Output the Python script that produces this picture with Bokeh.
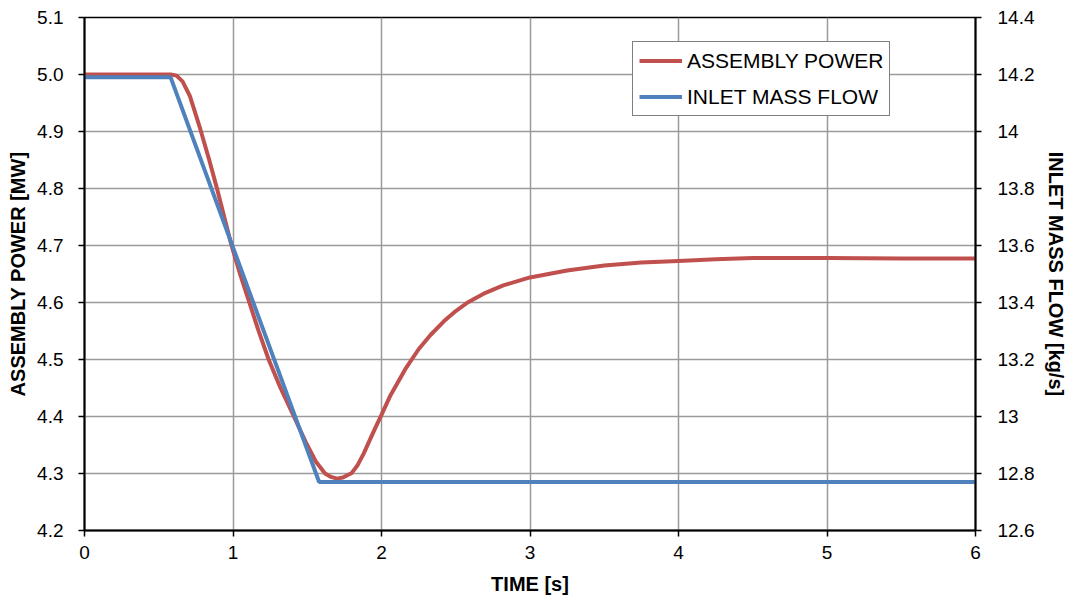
from bokeh.plotting import figure
from bokeh.models import (LinearAxis, Range1d, Legend, LegendItem, FixedTicker,
                          CustomJSTickFormatter, PrintfTickFormatter)
from bokeh.embed import file_html
from bokeh.resources import INLINE

# Assembly power response [MW] vs time [s]
power_time = [0.00, 0.58, 0.62, 0.66, 0.71, 0.78, 0.84, 0.89, 0.99, 1.05, 1.11, 1.17,
              1.24, 1.32, 1.41, 1.49, 1.56, 1.62, 1.66, 1.70, 1.74, 1.80, 1.84, 1.88,
              1.92, 1.96, 2.00, 2.06, 2.16, 2.25, 2.33, 2.42, 2.50, 2.58, 2.70, 2.82,
              3.00, 3.25, 3.50, 3.75, 4.00, 4.25, 4.50, 5.00, 5.50, 6.00]
power_mw = [5.000, 5.000, 4.998, 4.988, 4.962, 4.904, 4.850, 4.802, 4.700, 4.648, 4.600, 4.552,
            4.500, 4.450, 4.400, 4.355, 4.320, 4.300, 4.294, 4.291, 4.293, 4.301, 4.315, 4.335,
            4.358, 4.381, 4.403, 4.437, 4.483, 4.518, 4.543, 4.567, 4.585, 4.600, 4.617, 4.630,
            4.644, 4.656, 4.665, 4.670, 4.673, 4.676, 4.678, 4.678, 4.677, 4.677]

# Inlet mass flow [kg/s]: linear ramp down
flow_time = [0.00, 0.58, 1.58, 6.00]
flow_kgs = [14.19, 14.19, 12.77, 12.77]

x_ticks = [0, 1, 2, 3, 4, 5, 6]
power_ticks = [4.2, 4.3, 4.4, 4.5, 4.6, 4.7, 4.8, 4.9, 5.0, 5.1]
flow_ticks = [12.6, 12.8, 13.0, 13.2, 13.4, 13.6, 13.8, 14.0, 14.2, 14.4]

RED = "#C0504D"
BLUE = "#4F81BD"
FONT = "Liberation Sans"

p = figure(width=1070, height=601, output_backend="svg", toolbar_location=None,
           x_range=Range1d(0, 6), y_range=Range1d(4.2, 5.1),
           min_border_left=84, min_border_right=95, min_border_top=17, min_border_bottom=71)
p.extra_y_ranges = {"flow": Range1d(12.6, 14.4)}

p.outline_line_color = "black"
p.outline_line_width = 1.5
p.background_fill_color = "white"
p.border_fill_color = "white"

r_power = p.line(power_time, power_mw, line_color=RED, line_width=4)
r_flow = p.line(flow_time, flow_kgs, line_color=BLUE, line_width=4, y_range_name="flow")

# axes
xa = p.xaxis[0]
xa.ticker = FixedTicker(ticks=x_ticks)
xa.axis_label = "TIME [s]"
ya = p.yaxis[0]
ya.ticker = FixedTicker(ticks=power_ticks)
ya.formatter = PrintfTickFormatter(format="%.1f")
ya.axis_label = "ASSEMBLY POWER [MW]"

ra = LinearAxis(y_range_name="flow", axis_label="INLET MASS FLOW [kg/s]")
ra.ticker = FixedTicker(ticks=flow_ticks)
ra.formatter = CustomJSTickFormatter(code="return String(Number(tick.toFixed(1)));")
p.add_layout(ra, "right")

for ax in (xa, ya, ra):
    ax.axis_line_color = "black"
    ax.axis_line_width = 2
    ax.major_tick_line_color = "black"
    ax.major_tick_line_width = 1.5
    ax.major_tick_out = 6
    ax.major_tick_in = 0
    ax.minor_tick_out = 0
    ax.minor_tick_in = 0
    ax.major_label_text_font = FONT
    ax.major_label_text_font_size = "19px"
    ax.major_label_text_color = "black"
    ax.axis_label_text_font = FONT
    ax.axis_label_text_font_style = "bold"
    ax.axis_label_text_font_size = "20px"
    ax.axis_label_text_color = "black"

xa.major_label_standoff = 9
xa.axis_label_standoff = 11
ya.major_label_standoff = 15
ya.axis_label_standoff = 5
ra.major_label_standoff = 16
ra.axis_label_standoff = 8

p.xgrid.ticker = FixedTicker(ticks=x_ticks)
p.ygrid.ticker = FixedTicker(ticks=power_ticks)
for g in (p.xgrid[0], p.ygrid[0]):
    g.grid_line_color = "#9a9a9a"
    g.grid_line_width = 1.5

legend = Legend(items=[LegendItem(label="ASSEMBLY POWER", renderers=[r_power]),
                       LegendItem(label="INLET MASS FLOW", renderers=[r_flow])],
                location=(548, 414), margin=0, padding=6, spacing=11,
                glyph_width=43, glyph_height=25, label_height=25, label_standoff=5,
                label_text_font=FONT, label_text_font_size="21px",
                label_text_color="black",
                border_line_color="black", border_line_width=1.2,
                background_fill_color="white", background_fill_alpha=1.0)
p.add_layout(legend, "center")

open("out.html", "w").write(file_html(p, INLINE))
